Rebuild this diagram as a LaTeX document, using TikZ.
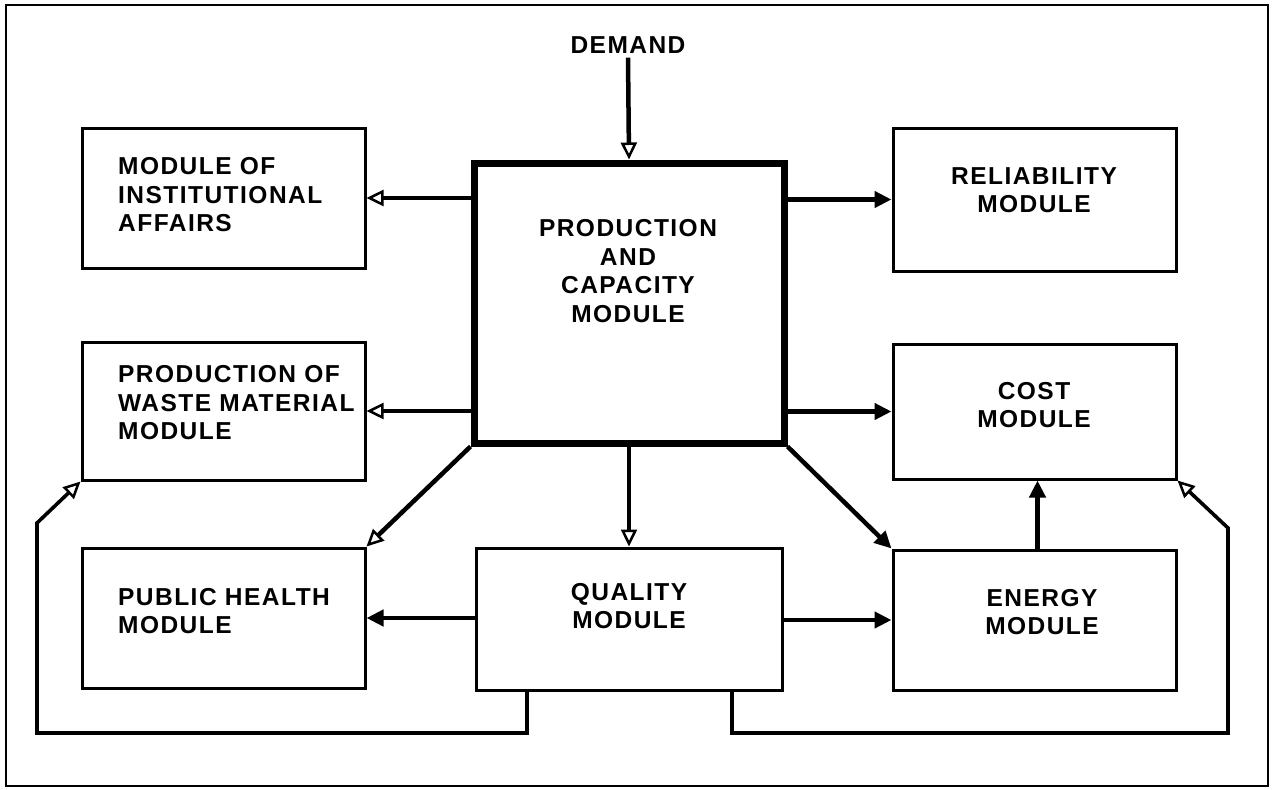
\documentclass[tikz,border=0pt]{standalone}
\usepackage{fontspec}
\setmainfont{Liberation Sans}[LetterSpace=6]
\usetikzlibrary{arrows.meta}

\tikzset{
  module/.style={draw=black, line width=3pt, rectangle, inner sep=0pt},
  mainmodule/.style={draw=black, line width=7pt, rectangle, inner sep=0pt},
  caption/.style={font=\fontsize{24.5}{28.5}\selectfont\bfseries, inner sep=0pt},
  lcaption/.style={caption, align=left, anchor=west},
  ccaption/.style={caption, align=center},
  flow/.style={line width=4.5pt, -{Triangle[length=17pt,width=16pt]}},
  oflow/.style={line width=4.5pt, -{Triangle[open,length=17pt,width=16pt,line width=2.5pt]}},
  feedback/.style={line width=3.6pt, line join=miter, -{Triangle[open,length=17pt,width=16pt,line width=2.5pt]}},
}

\begin{document}
\begin{tikzpicture}[x=1pt,y=-1pt]
\useasboundingbox (0,0) rectangle (1273,789);
% outer frame
\draw[line width=2.5pt] (6,5) rectangle (1268,786);

% boxes
\node[mainmodule, minimum width=310, minimum height=280] (prod) at (629,303) {};
\node[module, minimum width=283, minimum height=140] (inst) at (223.5,198) {};
\node[module, minimum width=283, minimum height=143] (rel) at (1034.5,199.5) {};
\node[module, minimum width=283, minimum height=138] (waste) at (223.5,411) {};
\node[module, minimum width=283, minimum height=135] (cost) at (1034.5,411.5) {};
\node[module, minimum width=283, minimum height=140] (health) at (223.5,618) {};
\node[module, minimum width=306, minimum height=142] (qual) at (629,619) {};
\node[module, minimum width=283, minimum height=140] (energy) at (1034.5,620) {};

% captions
\node[ccaption] (demand) at (628,45) {DEMAND};
\node[ccaption] (prodtxt) at (628,271) {PRODUCTION\\AND\\CAPACITY\\MODULE};
\node[lcaption] (insttxt) at (118,195) {MODULE OF\\INSTITUTIONAL\\AFFAIRS};
\node[ccaption] (reltxt) at (1034,190) {RELIABILITY\\MODULE};
\node[lcaption] (wastetxt) at (118,403) {PRODUCTION OF\\WASTE MATERIAL\\MODULE};
\node[ccaption] (costtxt) at (1034,405) {COST\\MODULE};
\node[lcaption] (healthtxt) at (118,611) {PUBLIC HEALTH\\MODULE};
\node[ccaption] (qualtxt) at (629,606) {QUALITY\\MODULE};
\node[ccaption] (energytxt) at (1042,612) {ENERGY\\MODULE};

% connectors from the production and capacity module
\draw[oflow] ([yshift=-4pt]demand.south) -- (prod.north);
\draw[oflow] (prod.west |- inst.center) -- (inst.east);
\draw[flow] (prod.east |- rel.center) -- (rel.west);
\draw[oflow] (prod.west |- waste.center) -- (waste.east);
\draw[flow] (prod.east |- cost.center) -- (cost.west);
\draw[oflow] (prod.south west) -- (health.north east);
\draw[flow] (prod.south east) -- (energy.north west);
\draw[oflow] (prod.south) -- (qual.north);

% connectors from the quality and energy modules
\draw[flow] (qual.west |- health.center) -- (health.east);
\draw[flow] (qual.east |- energy.center) -- (energy.west);
\draw[flow] ([xshift=3pt]energy.north) -- ([xshift=3pt]cost.south);

% feedback loops below the quality module
\coordinate (qlbot) at ([xshift=-102pt]qual.south);
\coordinate (qrbot) at ([xshift=103pt]qual.south);
\coordinate (lcorner) at (37,733);
\coordinate (lbend) at (37,523);
\coordinate (rcorner) at (1228,733);
\coordinate (rbend) at (1228,528);
\draw[feedback] (qlbot) -- (qlbot |- lcorner) -- (lcorner) -- (lbend) -- (waste.south west);
\draw[feedback] (qrbot) -- (qrbot |- rcorner) -- (rcorner) -- (rbend) -- (cost.south east);
\end{tikzpicture}
\end{document}
